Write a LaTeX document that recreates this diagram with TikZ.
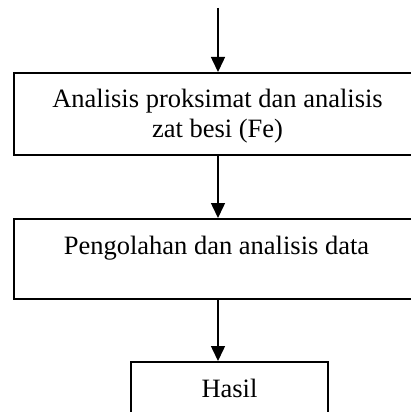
\documentclass[tikz,border=0pt]{standalone}
\usepackage{fontspec}
\setmainfont{Liberation Serif}
\usetikzlibrary{arrows.meta}
\tikzset{
  boxnode/.style={draw=black, line width=1.5pt, inner sep=0pt, anchor=north west},
  txt/.style={anchor=base, inner sep=0pt, font=\fontsize{26.5}{30}\selectfont},
  flow/.style={line width=1.5pt, -{Triangle[length=15pt,width=14pt]}}
}
\begin{document}
\begin{tikzpicture}[x=1pt,y=-1pt]
\useasboundingbox (0,0) rectangle (411,412);
\clip (0,0) rectangle (411,412);
\node[boxnode, minimum width=430pt, minimum height=82pt] (b1) at (13,72) {};
\node[boxnode, minimum width=430pt, minimum height=80pt] (b2) at (13,218) {};
\node[boxnode, minimum width=197pt, minimum height=80pt] (b3) at (130,361) {};
\node[txt] (t1a) at (217.5,107) {Analisis proksimat dan analisis};
\node[txt] (t1b) at (217.5,137) {zat besi (Fe)};
\node[txt] (t2) at (216.5,254) {Pengolahan dan analisis data};
\node[txt] (t3) at (229.5,397) {Hasil};
\coordinate (top) at (218,8);
\draw[flow] (top) -- (top |- b1.north);
\draw[flow] (top |- b1.south) -- (top |- b2.north);
\draw[flow] (top |- b2.south) -- (top |- b3.north);
\end{tikzpicture}
\end{document}
